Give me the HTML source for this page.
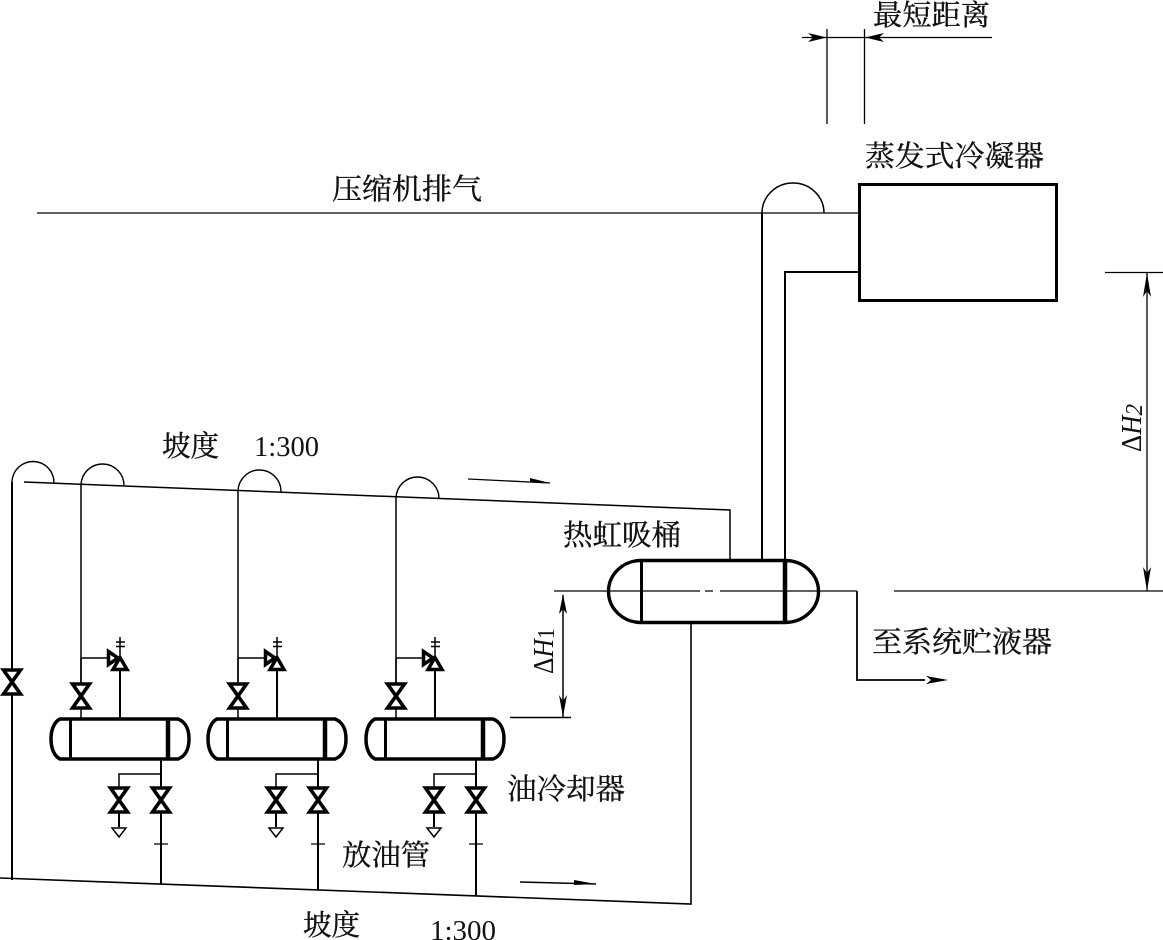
<!DOCTYPE html>
<html><head><meta charset="utf-8">
<style>
html,body{margin:0;padding:0;background:#fff;width:1163px;height:940px;overflow:hidden}
svg{display:block}
.c{font-family:"Liberation Serif","Noto Serif CJK SC",serif;fill:#111;stroke:#111;stroke-width:.35;font-size:29px}
.n{font-family:"Liberation Serif",serif;fill:#111;font-size:28px}
</style></head><body>
<svg width="1163" height="940" viewBox="0 0 1163 940" xmlns="http://www.w3.org/2000/svg">
<defs>
<g id="bow" fill="#fff" stroke="#000" stroke-width="3.600">
<path d="M-8.500 -12H8.500L-8.500 12H8.500Z" stroke-linejoin="miter"/>
</g>
<g id="unit" fill="none" stroke="#000">
<path d="M81 658V718" stroke-width="1.500"/>
<path d="M81 658H107" stroke-width="1.500"/>
<path d="M120 670V718" stroke-width="2"/>
<path d="M120 637V655M116 642H125M116 646.500H125" stroke-width="1.500"/>
<path d="M108.500 651.500V664.500L118 658Z" fill="#fff" stroke-width="3.500"/>
<path d="M120 657.500L127 669.500H113Z" fill="#fff" stroke-width="3.500"/>
<use href="#bow" x="81" y="696"/>
<path d="M60 719H178C186 722 189 730 189 739C189 748 186 756 178 759H60C54 756 51 748 51 739C51 730 54 722 60 719Z" fill="#fff" stroke-width="3.500"/>
<path d="M70.500 719V759" stroke-width="3"/>
<path d="M168 719V759" stroke-width="4.500"/>
<path d="M161 760V787" stroke-width="2"/>
<path d="M161 774H119V787" stroke-width="1.500"/>
<path d="M119 813V827" stroke-width="2"/>
<path d="M112 828H126L119 837Z" stroke-width="1.500"/>
<use href="#bow" x="119" y="800"/>
<use href="#bow" x="161" y="800"/>
</g>
</defs>

<!-- top dimension -->
<g fill="none" stroke="#000" stroke-width="1.300">
<path d="M827 29V124M864.500 29V124M802 37.500H992"/>
<path d="M37 213H859"/>
<path d="M824 213A31 30 0 0 0 762 213" stroke-width="1.500"/>
<path d="M1105 272.500H1163M1147 272V591M894 591H1163"/>
</g>
<path d="M808 33L827 37.500L808 42L813 37.500Z" fill="#000"/>
<path d="M884 33L865 37.500L884 42L879 37.500Z" fill="#000"/>
<path d="M1147 273L1151 297L1147 291L1143 297Z" fill="#000"/>
<path d="M1147 591L1151 567L1147 573L1143 567Z" fill="#000"/>

<!-- condenser -->
<rect x="859.500" y="184.500" width="197" height="116" fill="#fff" stroke="#000" stroke-width="3"/>
<path d="M762 213V559M859 272H785V559" fill="none" stroke="#000" stroke-width="2"/>

<!-- slope lines -->
<path d="M24 482L730 510V559" fill="none" stroke="#000" stroke-width="1.500"/>
<path d="M0 878L691 904V623" fill="none" stroke="#000" stroke-width="1.600"/>
<path d="M12 880V482" fill="none" stroke="#000" stroke-width="2"/>
<g fill="none" stroke="#000" stroke-width="1.400">
<path d="M12 482A21 21 0 0 1 54 483"/>
<path d="M81 485A21.500 21.500 0 0 1 124 486"/>
<path d="M238 491A21.500 21.500 0 0 1 281 492"/>
<path d="M396 498A21.500 21.500 0 0 1 439 499"/>
</g>
<use href="#bow" x="12" y="682"/>

<!-- units -->
<use href="#unit"/>
<use href="#unit" x="157"/>
<use href="#unit" x="315"/>

<!-- per-unit risers and drains -->
<g fill="none" stroke="#000">
<path d="M81 485V684M238 491V684M396 498V684" stroke-width="1.500"/>
<path d="M161 813V884M318 813V890M476 813V896" stroke-width="2"/>
<path d="M154 844H168M311 844H325M469 844H483" stroke-width="1.200"/>
</g>

<!-- main vessel -->
<path d="M641 560.500H785A33.500 31 0 0 1 785 622.500H641A32.500 31 0 0 1 641 560.500Z" fill="#fff" stroke="#000" stroke-width="3.400"/>
<path d="M641.500 560V623" stroke="#000" stroke-width="3" fill="none"/>
<path d="M785 560V623" stroke="#000" stroke-width="4.500" fill="none"/>
<path d="M554 591H700M705 591H713M720 591H857" fill="none" stroke="#000" stroke-width="1.300"/>
<path d="M857 591V680H925" fill="none" stroke="#000" stroke-width="1.800"/>
<path d="M926 676L948 680L926 684L931 680Z" fill="#000"/>

<!-- dH1 -->
<path d="M563 595V717M510 717.500H571" fill="none" stroke="#000" stroke-width="1.500"/>
<path d="M563 594L567 614L563 609L559 614Z" fill="#000"/>
<path d="M563 717L567 695L563 701L559 695Z" fill="#000"/>

<!-- flow arrows -->
<path d="M468 479L550 483" stroke="#000" stroke-width="1.300"/>
<path d="M530 478L550 483L530 482Z" fill="#000"/>
<path d="M520 882L596 884" stroke="#000" stroke-width="1.500"/>
<path d="M574 880L596 884L574 885Z" fill="#000"/>

<!-- labels -->
<text class="c" x="873" y="25" textLength="117" lengthAdjust="spacingAndGlyphs">最短距离</text>
<text class="c" x="865" y="166" textLength="179" lengthAdjust="spacingAndGlyphs">蒸发式冷凝器</text>
<text class="c" x="332" y="199" textLength="150" lengthAdjust="spacingAndGlyphs">压缩机排气</text>
<text class="c" x="162" y="456" textLength="57" lengthAdjust="spacingAndGlyphs">坡度</text>
<text class="n" x="254" y="456" textLength="65" lengthAdjust="spacingAndGlyphs">1:300</text>
<text class="c" x="563" y="545" textLength="118" lengthAdjust="spacingAndGlyphs">热虹吸桶</text>
<text class="c" x="872" y="652" textLength="180" lengthAdjust="spacingAndGlyphs">至系统贮液器</text>
<text class="c" x="507" y="799" textLength="118" lengthAdjust="spacingAndGlyphs">油冷却器</text>
<text class="c" x="342" y="865" textLength="88" lengthAdjust="spacingAndGlyphs">放油管</text>
<text class="c" x="303" y="935" textLength="57" lengthAdjust="spacingAndGlyphs">坡度</text>
<text class="n" x="430" y="940" textLength="66" lengthAdjust="spacingAndGlyphs">1:300</text>

<g transform="translate(1141,452) rotate(-90)"><text class="n" x="0" y="0" textLength="48" lengthAdjust="spacingAndGlyphs">Δ<tspan font-style="italic">H</tspan><tspan font-size="24" dy="1" font-style="italic">2</tspan></text></g>
<g transform="translate(553,674) rotate(-90)"><text class="n" x="0" y="0" textLength="46" lengthAdjust="spacingAndGlyphs">Δ<tspan font-style="italic">H</tspan><tspan font-size="24" dy="1">1</tspan></text></g>
</svg>
</body></html>
